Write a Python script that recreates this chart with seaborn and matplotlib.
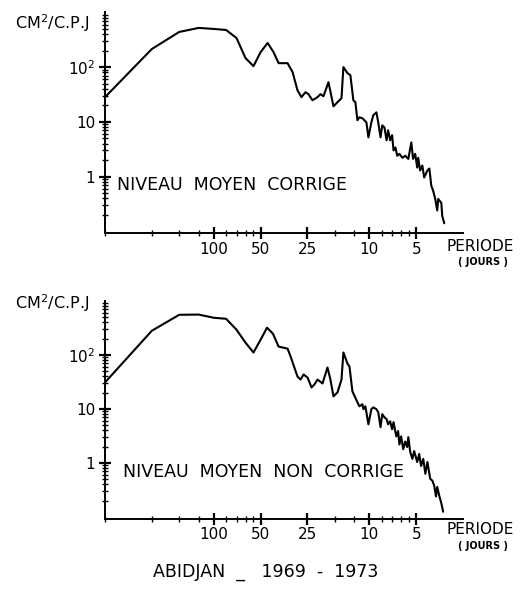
import numpy as np
import pandas as pd
import matplotlib
matplotlib.use("Agg")
import matplotlib.pyplot as plt
import seaborn as sns

# Spectral density of the mean sea level at Abidjan (1969-1973),
# frequency in cycles per day, density in cm^2 / (cycle per day)
freq_corr = [0.002, 0.004, 0.006, 0.008, 0.010, 0.012, 0.014, 0.016, 0.018, 0.020,
             0.0222, 0.0242, 0.0261, 0.0298, 0.0321, 0.0345, 0.0366, 0.0389, 0.0406, 0.0431,
             0.0464, 0.0485, 0.0507, 0.0546, 0.0588, 0.0633, 0.0662, 0.0681, 0.0723, 0.0755,
             0.0789, 0.0813, 0.0838, 0.0863, 0.0902, 0.0957, 0.0986, 0.103, 0.106, 0.111,
             0.114, 0.118, 0.121, 0.125, 0.129, 0.132, 0.136, 0.140, 0.143, 0.147,
             0.151, 0.156, 0.163, 0.170, 0.178, 0.186, 0.191, 0.197, 0.203, 0.206,
             0.212, 0.219, 0.225, 0.236, 0.243, 0.250, 0.257, 0.265, 0.273, 0.277,
             0.290, 0.294, 0.303]
dens_corr = [28.2, 214, 439, 520, 498, 477, 340, 146, 104, 188,
             276, 188, 118, 118, 81, 37.8, 28.2, 34.8, 32, 24.8,
             28.2, 32, 29.4, 53, 19.2, 23.8, 27, 100, 77.6, 71.3,
             24.8, 22.8, 10.7, 12.1, 11.6, 9.8, 5.2, 9.8, 13.2, 14.9,
             9.8, 5.2, 8.6, 7.9, 4.6, 7.0, 4.6, 5.7, 3.0, 3.4,
             2.4, 2.6, 2.2, 2.4, 2.1, 4.2, 2.1, 2.6, 1.46, 2.2,
             1.29, 1.59, 0.96, 1.29, 1.40, 0.68, 0.55, 0.39, 0.24, 0.39,
             0.33, 0.19, 0.14]

freq_raw = [0.002, 0.004, 0.006, 0.008, 0.010, 0.012, 0.014, 0.016, 0.018, 0.020,
            0.022, 0.024, 0.0261, 0.0298, 0.0312, 0.0345, 0.0361, 0.0378, 0.0401, 0.0425,
            0.0444, 0.0464, 0.0500, 0.0538, 0.0562, 0.0588, 0.0624, 0.0662, 0.0681, 0.0723,
            0.0745, 0.0778, 0.0838, 0.0863, 0.0902, 0.0916, 0.0943, 0.0986, 0.103, 0.106,
            0.111, 0.114, 0.118, 0.121, 0.125, 0.129, 0.132, 0.136, 0.140, 0.143,
            0.149, 0.153, 0.156, 0.160, 0.165, 0.170, 0.175, 0.178, 0.183, 0.189,
            0.194, 0.203, 0.209, 0.215, 0.222, 0.229, 0.236, 0.246, 0.254, 0.261,
            0.268, 0.273, 0.281, 0.290, 0.298]
dens_raw = [31, 281, 555, 560, 489, 468, 294, 169, 111, 192,
            320, 248, 143, 131, 93, 40, 35, 43.5, 38, 25,
            28.5, 35, 29.7, 58.6, 35, 17.1, 20.3, 35, 111, 69.5,
            61, 21.2, 13.3, 11.2, 12.2, 9.9, 11.2, 5.2, 9.9, 10.7,
            9.9, 8.7, 4.6, 8.0, 7.0, 6.5, 5.2, 5.9, 4.2, 5.7,
            3.1, 3.9, 2.2, 3.1, 1.8, 2.5, 1.97, 3.0, 1.6, 1.19,
            1.66, 1.04, 1.47, 0.88, 1.19, 0.63, 1.04, 0.51, 0.47, 0.38,
            0.24, 0.36, 0.25, 0.18, 0.125]

period_labels = [100, 50, 25, 10, 5]
minor_freqs = [0.002, 0.004, 0.006, 0.008, 0.012, 0.014, 0.016, 0.018,
               0.06, 0.08, 0.12, 0.14, 0.16, 0.18]
y_major = [1, 10, 100]
y_major_labels = ["1", "10", "10$^{2}$"]

panel_titles = ["NIVEAU  MOYEN  CORRIGE", "NIVEAU  MOYEN  NON  CORRIGE"]
y_unit = "CM$^{2}$/C.P.J"
x_name = "PERIODE"
x_unit = "( JOURS )"
caption = "ABIDJAN  _   1969  -  1973"

sns.set_style("ticks")
plt.rcParams["font.family"] = ["DejaVu Sans"]

fig = plt.figure(figsize=(5.25, 5.89), dpi=100)
ax_top = fig.add_axes([0.200, 0.604, 0.682, 0.375])
ax_bot = fig.add_axes([0.200, 0.119, 0.682, 0.370])

panels = [
    (ax_top, freq_corr, dens_corr, panel_titles[0], (0.034, 0.217), 0.950, (-0.059, -0.131)),
    (ax_bot, freq_raw, dens_raw, panel_titles[1], (0.050, 0.216), 0.992, (-0.050, -0.124)),
]

for ax, f, d, title, tpos, unit_y, xlab_y in panels:
    df = pd.DataFrame({"freq": f, "dens": d})
    sns.lineplot(data=df, x="freq", y="dens", ax=ax, color="black",
                 linewidth=1.5, estimator=None)
    ax.set_xscale("log")
    ax.set_yscale("log")
    ax.set_xlim(0.002, 0.40)
    ax.set_ylim(0.092, 1000)
    sns.despine(ax=ax)
    for side in ("left", "bottom"):
        ax.spines[side].set_linewidth(1.4)
        ax.spines[side].set_color("black")

    ax.set_xticks([1.0 / p for p in period_labels])
    ax.set_xticklabels([str(p) for p in period_labels])
    ax.set_xticks(minor_freqs, minor=True)
    ax.xaxis.set_minor_formatter(matplotlib.ticker.NullFormatter())
    ax.set_yticks(y_major)
    ax.set_yticklabels(y_major_labels)
    ax.yaxis.set_minor_locator(matplotlib.ticker.LogLocator(base=10, subs=np.arange(2, 10)))
    ax.yaxis.set_minor_formatter(matplotlib.ticker.NullFormatter())
    ax.tick_params(axis="both", which="major", direction="inout", length=8,
                   width=1.6, colors="black", labelsize=11, pad=3)
    ax.tick_params(axis="both", which="minor", direction="inout", length=5,
                   width=1.0, colors="black")
    ax.tick_params(axis="x", which="major", pad=2)
    ax.set_xlabel("")
    ax.set_ylabel("")

    ax.text(tpos[0], tpos[1], title, transform=ax.transAxes, fontsize=12.5,
            ha="left", va="center", color="black")
    ax.text(-0.148, unit_y, y_unit, transform=ax.transAxes, fontsize=11.5,
            ha="center", va="center", color="black")
    ax.text(1.047, xlab_y[0], x_name, transform=ax.transAxes, fontsize=11,
            ha="center", va="center", color="black")
    ax.text(1.056, xlab_y[1], x_unit, transform=ax.transAxes, fontsize=7,
            ha="center", va="center", color="black", fontweight="bold")

fig.text(0.507, 0.029, caption, fontsize=12.5, ha="center", va="center", color="black")

fig.savefig("out.png", dpi=100, facecolor="white")
